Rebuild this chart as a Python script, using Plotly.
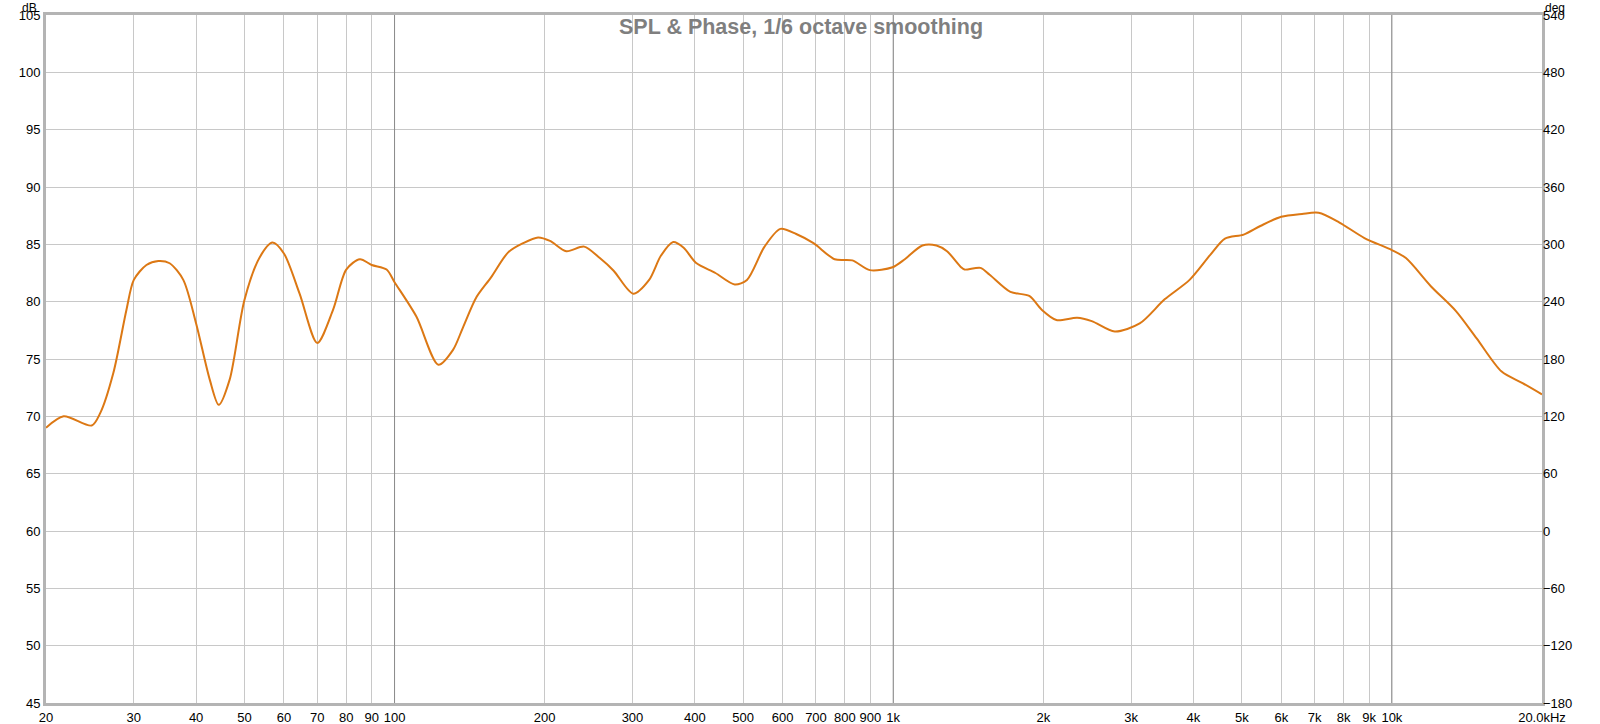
import plotly.graph_objects as go

# ---- data ----
freq_hz = [20, 21.7, 24.7, 25.7, 27.3, 29.0, 30.0, 31.8, 33.6, 35.4, 37.7, 40.0, 42.6, 44.4, 46.7,
           50.0, 53.7, 56.9, 60.0, 64.5, 70.0, 75.3, 80.0, 85.2, 90.0, 96.4, 100, 110.6, 122.4,
           131, 137, 146, 156, 169, 181, 194, 205, 221, 240, 258, 275, 301, 324, 342, 362, 380,
           402, 440, 481, 509, 552, 594, 639, 692, 763, 828, 898, 997, 1055, 1144, 1221, 1282,
           1368, 1390, 1496, 1561, 1718, 1874, 1985, 2124, 2338, 2501, 2781, 3121, 3502, 3929,
           4327, 4627, 5044, 5448, 5998, 6604, 7130, 7850, 8810, 10000, 10670, 11970, 13430,
           14790, 16600, 18280, 19920, 20000]
spl_db = [69.0, 70.0, 69.2, 70.3, 73.8, 79.3, 81.9, 83.2, 83.55, 83.35, 81.9, 78.1, 73.2, 71.0, 73.2,
          80.15, 83.9, 85.15, 84.2, 80.7, 76.4, 79.3, 82.8, 83.7, 83.2, 82.8, 81.7, 78.7, 74.5,
          75.8, 77.7, 80.4, 82.1, 84.3, 85.1, 85.6, 85.3, 84.4, 84.8, 83.8, 82.7, 80.7, 81.9, 84.0,
          85.2, 84.7, 83.4, 82.5, 81.5, 81.9, 84.8, 86.35, 85.9, 85.1, 83.7, 83.6, 82.75, 83.0,
          83.7, 84.9, 84.9, 84.4, 83.0, 82.8, 82.95, 82.35, 80.85, 80.5, 79.3, 78.4, 78.6, 78.3,
          77.4, 78.1, 80.2, 81.9, 84.1, 85.5, 85.85, 86.6, 87.4, 87.65, 87.75, 86.9, 85.55, 84.5,
          83.8, 81.35, 79.2, 76.8, 73.9, 72.9, 71.95, 71.9]

x_tickvals = [20, 30, 40, 50, 60, 70, 80, 90, 100, 200, 300, 400, 500, 600, 700, 800, 900,
              1000, 2000, 3000, 4000, 5000, 6000, 7000, 8000, 9000, 10000, 20000]
x_ticktext = ["20", "30", "40", "50", "60", "70", "80", "90", "100", "200", "300", "400", "500",
              "600", "700", "800", "900", "1k", "2k", "3k", "4k", "5k", "6k", "7k", "8k", "9k",
              "10k", "20.0kHz"]
decade_lines = [100, 1000, 10000]
db_ticks = [45, 50, 55, 60, 65, 70, 75, 80, 85, 90, 95, 100, 105]
deg_ticks = [-180, -120, -60, 0, 60, 120, 180, 240, 300, 360, 420, 480, 540]

title_text = "SPL & Phase, 1/6 octave smoothing"

FONT = "Liberation Sans, Arial, sans-serif"

fig = go.Figure()

for d in decade_lines:
    fig.add_trace(go.Scatter(x=[d, d], y=[db_ticks[0], db_ticks[-1]], mode="lines",
                             line=dict(color="#8a8a8a", width=1), hoverinfo="skip",
                             showlegend=False))

fig.add_trace(go.Scatter(x=freq_hz, y=spl_db, mode="lines",
                         line=dict(color="#dc7814", width=2, shape="spline", smoothing=0.8),
                         showlegend=False))

# invisible trace to activate right axis
fig.add_trace(go.Scatter(x=[freq_hz[0]], y=[deg_ticks[0]], yaxis="y2", mode="markers",
                         marker=dict(opacity=0), hoverinfo="skip", showlegend=False))

fig.update_layout(
    width=1600, height=724,
    margin=dict(l=46, r=58, t=15, b=21, autoexpand=False),
    paper_bgcolor="white", plot_bgcolor="white",
    font=dict(family=FONT, size=13, color="#000000"),
    xaxis=dict(type="log", range=[1.30103, 4.30103], tickvals=x_tickvals, ticktext=x_ticktext,
               showgrid=True, gridcolor="#c8c8c8", gridwidth=1, zeroline=False,
               showline=True, linecolor="#b4b4b4", linewidth=3, mirror=True, ticks="",
               automargin=False, tickfont=dict(size=13, family=FONT)),
    yaxis=dict(range=[45, 105], tickvals=db_ticks, showgrid=True, gridcolor="#c8c8c8",
               gridwidth=1, zeroline=False, showline=True, linecolor="#b4b4b4", linewidth=3,
               mirror=True, ticks="", automargin=False, tickfont=dict(size=13, family=FONT)),
    yaxis2=dict(range=[-180, 540], tickvals=deg_ticks, overlaying="y", side="right",
                showgrid=False, zeroline=False, showline=False, ticks="", automargin=False,
                tickfont=dict(size=13, family=FONT)),
    annotations=[
        dict(text="<b>" + title_text + "</b>", xref="paper", yref="paper", x=0.505, y=0.983,
             xanchor="center", yanchor="middle", showarrow=False,
             font=dict(size=21.5, color="#7f7f7f", family=FONT)),
        dict(text="dB", xref="paper", yref="paper", x=-0.0055, y=1.0225, xanchor="right",
             yanchor="top", showarrow=False, borderpad=0, font=dict(size=12, family=FONT)),
        dict(text="deg", xref="paper", yref="paper", x=1.0015, y=1.0225, xanchor="left",
             yanchor="top", showarrow=False, borderpad=0, font=dict(size=12, family=FONT)),
    ],
)

fig.write_html("out.html", config={"displayModeBar": False},
               post_script="document.body.style.margin='0';document.body.style.overflow='hidden';")
